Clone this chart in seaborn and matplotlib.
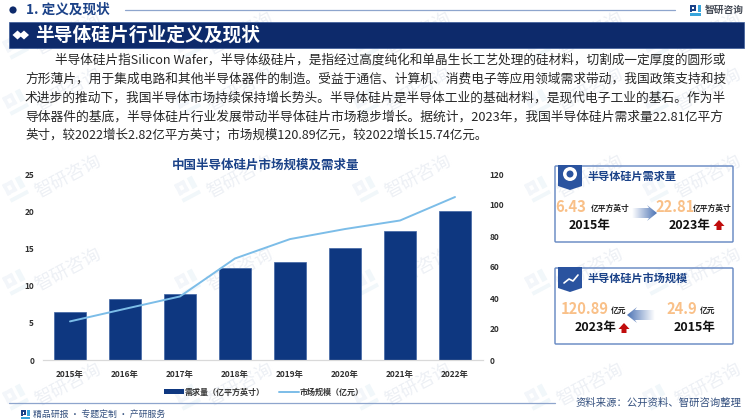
import numpy as np
import pandas as pd
import matplotlib
matplotlib.use("Agg")
import matplotlib.pyplot as plt
import seaborn as sns
from matplotlib.colors import LinearSegmentedColormap
from matplotlib.lines import Line2D
from matplotlib.patches import Circle, Polygon, Rectangle, FancyBboxPatch

years = ["2015年", "2016年", "2017年", "2018年", "2019年", "2020年", "2021年", "2022年"]
demand = [6.43, 8.2, 8.9, 12.3, 13.2, 15.1, 17.4, 19.99]
market = [24.9, 33, 41, 65.5, 78, 84.5, 90, 105.15]
left_ticks = [0, 5, 10, 15, 20, 25]
right_ticks = [0, 20, 40, 60, 80, 100, 120]

body_lines = [
    "半导体硅片指Silicon Wafer，半导体级硅片，是指经过高度纯化和单晶生长工艺处理的硅材料，切割成一定厚度的圆形或",
    "方形薄片，用于集成电路和其他半导体器件的制造。受益于通信、计算机、消费电子等应用领域需求带动，我国政策支持和技",
    "术进步的推动下，我国半导体市场持续保持增长势头。半导体硅片是半导体工业的基础材料，是现代电子工业的基石。作为半",
    "导体器件的基底，半导体硅片行业发展带动半导体硅片市场稳步增长。据统计，2023年，我国半导体硅片需求量22.81亿平方",
    "英寸，较2022增长2.82亿平方英寸；市场规模120.89亿元，较2022增长15.74亿元。",
]
body_x = [55, 25, 25, 25, 25]
body_end = [727, 725, 725, 725, 488]
body_y = [60, 79, 98, 117, 135]

NAVY = "#0d2a6b"
BAR = "#0e3780"
LINE = "#7cbde8"
ORANGE = "#f9c088"
TITLE = "#1b4288"

sns.set_theme(style="white")
plt.rcParams["font.family"] = ["Noto Sans CJK SC", "DejaVu Sans"]

fig = plt.figure(figsize=(7.5, 4.2), dpi=100, facecolor="white")

# page layer in pixel coordinates
bg = fig.add_axes([0, 0, 1, 1], zorder=0)
bg.set_xlim(0, 750)
bg.set_ylim(420, 0)
bg.axis("off")


def logo(x, y, s, c1, c2, angle=0, z=1):
    pieces = [
        ([0, 0, 0.55, 0.55], [0, 0.18, 0.18, 0], c1),
        ([0, 0, 0.18, 0.18], [0, 0.62, 0.62, 0], c1),
        ([0, 0, 0.55, 0.55], [0.42, 0.6, 0.6, 0.42], c1),
        ([0.37, 0.37, 0.55, 0.55], [0, 0.6, 0.6, 0], c1),
        ([0.72, 0.72, 1, 1], [0, 0.62, 0.62, 0], c2),
        ([0, 0, 1, 1], [0.8, 1, 1, 0.8], c2),
    ]
    a = np.deg2rad(angle)
    for xs, ys, col in pieces:
        px = np.array(xs) * s
        py = np.array(ys) * s
        rx = x + px * np.cos(a) + py * np.sin(a)
        ry = y - px * np.sin(a) + py * np.cos(a)
        bg.add_patch(Polygon(np.column_stack([rx, ry]), closed=True, fc=col, ec="none", zorder=z))


# watermarks
for wy in [34, 90, 177, 270, 385]:
    for wx in [68, 240, 418, 590, 708]:
        bg.text(wx, wy, "智研咨询", fontsize=13, color="#edf0f5", rotation=28,
                ha="center", va="center", zorder=1)
        logo(wx - 66, wy + 8, 20, "#f3f6fa", "#f1f7fa", angle=28)

# header
bg.add_patch(Circle((13, 10), 3.6, fc=NAVY, ec="none", zorder=3))
bg.text(26, 10, "1. 定义及现状", fontsize=9.8, fontweight="bold", color=TITLE, va="center", zorder=3)
bg.plot([125, 675], [9.5, 9.5], color="#8ea5cd", lw=0.9, zorder=3)
logo(690, 5, 10.5, "#1b4288", "#38a5dc", z=3)
bg.text(705, 10, "智研咨询", fontsize=7, fontweight="bold", color="#444a55", va="center", zorder=3)

bg.add_patch(Rectangle((9, 22), 735, 26, fc=NAVY, ec="#3a5a98", lw=0.5, zorder=3))
for dx in [17.5, 24]:
    bg.add_patch(Polygon([(dx - 5, 35), (dx, 30.5), (dx + 5, 35), (dx, 39.5)], fc="white", ec="none", zorder=4))
bg.text(35, 35, "半导体硅片行业定义及现状", fontsize=13.5, fontweight="bold", color="white",
        va="center", zorder=4)

# body text, each line fitted to its width in the reference
renderer = fig.canvas.get_renderer()
for line, x0, x1, y in zip(body_lines, body_x, body_end, body_y):
    t = bg.text(x0, y, line, fontsize=9, color="#262626", va="center", zorder=3)
    w = t.get_window_extent(renderer).width
    t.set_fontsize(9 * (x1 - x0) / w)

# chart
bg.text(266, 165, "中国半导体硅片市场规模及需求量", fontsize=9, fontweight="bold", color=TITLE,
        ha="center", va="center", zorder=3)

df = pd.DataFrame({"year": years, "demand": demand, "market": market})
ax = fig.add_axes([42.5 / 750, 1 - 360 / 420, 440 / 750, 186 / 420], zorder=2)
ax.patch.set_alpha(0)
sns.barplot(data=df, x="year", y="demand", color=BAR, width=0.57, saturation=1,
            edgecolor="#3f64a3", linewidth=0.5, ax=ax)
ax2 = ax.twinx()
ax2.patch.set_alpha(0)
sns.lineplot(data=df, x="year", y="market", color=LINE, linewidth=1.4, sort=False, ax=ax2)
ax.set_xlim(-0.5, 7.5)
ax.set_ylim(0, 25)
ax2.set_ylim(0, 120)
ax.set_yticks(left_ticks)
ax2.set_yticks(right_ticks)
ax.set_xlabel("")
ax.set_ylabel("")
ax2.set_xlabel("")
ax2.set_ylabel("")
for a in [ax, ax2]:
    for side in ["top", "left", "right"]:
        a.spines[side].set_visible(False)
    a.spines["bottom"].set_color("#d9d9d9")
    a.spines["bottom"].set_linewidth(0.8)
ax.tick_params(axis="x", length=0, pad=7, labelsize=6, labelcolor="#303030")
ax.tick_params(axis="y", length=0, pad=6, labelsize=6, labelcolor="#303030")
ax2.tick_params(axis="y", length=0, pad=5, labelsize=6, labelcolor="#303030")
for lab in ax.get_xticklabels() + ax.get_yticklabels() + ax2.get_yticklabels():
    lab.set_fontweight("bold")

handles = [Rectangle((0, 0), 1, 1, fc=BAR, ec="none"), Line2D([0], [0], color=LINE, lw=1.4)]
leg = fig.legend(handles, ["需求量（亿平方英寸）", "市场规模（亿元）"], ncol=2, frameon=False,
                 loc="center", bbox_to_anchor=(264 / 750, 1 - 392 / 420), fontsize=5.8,
                 handlelength=2.4, handleheight=0.5, handletextpad=0.15, columnspacing=1.8)
for t in leg.get_texts():
    t.set_color("#333333")
    t.set_fontweight("bold")

# footer
bg.plot([9, 555], [403, 403], color="#8ea5cd", lw=0.9, zorder=3)
logo(21, 410, 9, "#1b4288", "#38a5dc", z=3)
bg.text(33, 414, "精品研报 · 专题定制 · 产研服务", fontsize=6.4, color="#34507f", va="center", zorder=3)
bg.text(576, 403, "资料来源：公开资料、智研咨询整理", fontsize=7.45, color="#34507f", va="center", zorder=3)


# side cards
def card(y0, y1, title):
    bg.add_patch(FancyBboxPatch((555, y0), 178, y1 - y0, boxstyle="round,pad=0,rounding_size=1",
                                fc="none", ec="#6f8fc6", lw=1.1, zorder=3))
    bg.add_patch(Polygon([(558, y0 - 1), (582, y0 - 1), (582, y0 + 20), (570, y0 + 24), (558, y0 + 20)],
                         fc="#2a539f", ec="none", zorder=4))
    bg.text(587, y0 + 10.5, title, fontsize=8, fontweight="bold", color=TITLE, va="center", zorder=4)


def value(x, y, txt):
    bg.text(x, y, txt, fontsize=10.6, fontweight="bold", color=ORANGE, va="center", zorder=6)


def unit(x, y, txt):
    bg.text(x, y, txt, fontsize=5.6, fontweight="bold", color="#222222", va="center", zorder=6)


def year(x, y, txt):
    bg.text(x, y, txt, fontsize=9, fontweight="bold", color="#111111", va="center", zorder=6)


def red_up(x, y):
    bg.add_patch(Polygon([(x - 5.5, y + 1), (x, y - 5), (x + 5.5, y + 1), (x + 2.5, y + 1), (x + 2.5, y + 5),
                          (x - 2.5, y + 5), (x - 2.5, y + 1)], fc="#c00c0c", ec="none", zorder=4))


arrow_cmap = LinearSegmentedColormap.from_list("arrow", ["#ffffff", "#4d74b5"])


def grad_arrow(x_tail, x_head, yc):
    sign = 1 if x_head > x_tail else -1
    neck = x_head - sign * 8
    pts = [(x_tail, yc - 5), (neck, yc - 5), (neck - sign * 2, yc - 8), (x_head, yc), (neck - sign * 2, yc + 8),
           (neck, yc + 5), (x_tail, yc + 5)]
    grad = np.linspace(0, 1, 64).reshape(1, -1)
    if sign < 0:
        grad = grad[:, ::-1]
    im = bg.imshow(grad, cmap=arrow_cmap, aspect="auto", zorder=4,
                   extent=(min(x_tail, x_head), max(x_tail, x_head), yc + 8, yc - 8))
    clip = Polygon(pts, closed=True, transform=bg.transData, fc="none", ec="none")
    bg.add_patch(clip)
    im.set_clip_path(clip)
    bg.set_xlim(0, 750)
    bg.set_ylim(420, 0)


card(166, 242, "半导体硅片需求量")
value(555, 207, "6.43")
unit(591, 208, "亿平方英寸")
year(569, 225, "2015年")
grad_arrow(632, 657, 213)
value(655, 207, "22.81")
unit(693, 208, "亿平方英寸")
year(669, 225, "2023年")
red_up(719, 225)
bg.add_patch(Circle((570, 174), 7, fc="white", ec="none", zorder=5))
bg.add_patch(Circle((570, 174), 3.5, fc="#2a539f", ec="none", zorder=6))

card(268, 344, "半导体硅片市场规模")
value(561, 309, "120.89")
unit(611, 310, "亿元")
year(575, 328, "2023年")
red_up(624, 328)
grad_arrow(655, 627, 315)
value(666, 309, "24.9")
unit(700, 310, "亿元")
year(674, 328, "2015年")
bg.plot([564, 569, 573, 578], [283, 279, 281, 275], color="white", lw=1.2, zorder=5)

fig.savefig("out.png", dpi=100)
